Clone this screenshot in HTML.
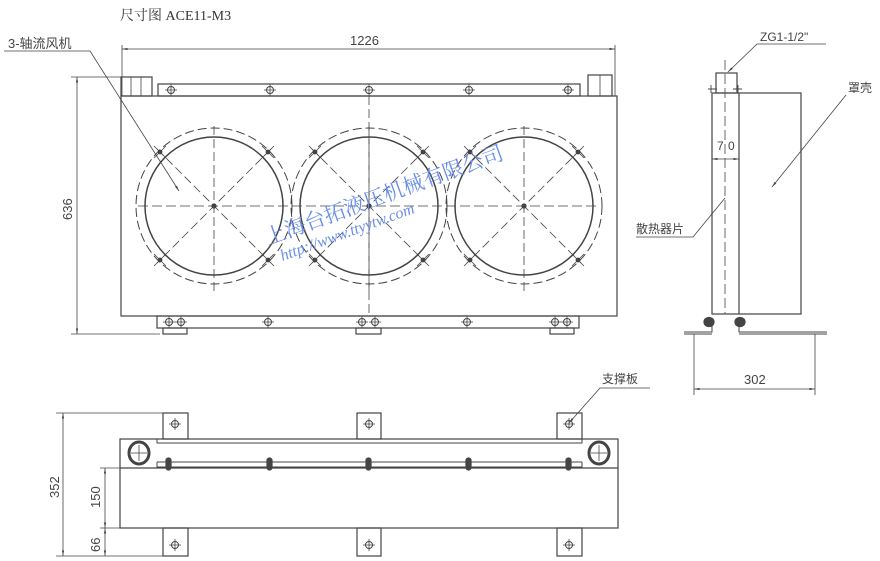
<!DOCTYPE html>
<html><head><meta charset="utf-8"><style>
html,body{margin:0;padding:0;background:#fff;}
svg{display:block;}
text{font-family:"Liberation Sans","Noto Sans CJK SC",sans-serif;fill:#444;}
</style></head><body>
<svg width="880" height="561" viewBox="0 0 880 561" xmlns="http://www.w3.org/2000/svg">
<defs>
<marker id="a" viewBox="0 0 10 10" refX="10" refY="5" markerWidth="7" markerHeight="7" orient="auto-start-reverse"><path d="M0,3 L10,5 L0,7 z" fill="#444"/></marker>
<g id="bolt"><circle r="3.5" fill="none" stroke="#444" stroke-width="1"/><path d="M-6,0H6M0,-6V6" stroke="#444" stroke-width="0.8"/></g>
</defs>
<g stroke="#444" stroke-width="1.2" fill="none">
<text x="120" y="20" font-size="14" stroke="none" style="font-family:'Liberation Serif','Noto Serif CJK SC',serif;fill:#333">尺寸图 ACE11-M3</text>
<!-- 1226 dim -->
<line x1="122" y1="45" x2="122" y2="96" stroke-width="0.8"/>
<line x1="615" y1="45" x2="615" y2="96" stroke-width="0.8"/>
<line x1="122" y1="49" x2="615" y2="49" stroke-width="0.8" marker-start="url(#a)" marker-end="url(#a)"/>
<text x="350" y="45" font-size="13" stroke="none">1226</text>
<!-- 636 dim -->
<line x1="71" y1="77" x2="152" y2="77" stroke-width="0.8"/>
<line x1="71" y1="334" x2="160" y2="334" stroke-width="0.8"/>
<line x1="77" y1="77" x2="77" y2="334" stroke-width="0.8" marker-start="url(#a)" marker-end="url(#a)"/>
<text transform="translate(72,220) rotate(-90)" font-size="13" stroke="none">636</text>
<!-- leader 3- -->
<text x="8" y="48" font-size="13" stroke="none">3-轴流风机</text>
<polyline points="4,51 90,51 179,191" stroke-width="0.8" marker-end="url(#a)"/>
<!-- front view -->
<rect x="121" y="96" width="496" height="220"/>
<rect x="121" y="77" width="31" height="19"/>
<line x1="131" y1="77" x2="131" y2="96" stroke-width="0.8"/><line x1="141" y1="77" x2="141" y2="96" stroke-width="0.8"/>
<rect x="588" y="75" width="24" height="21"/>
<line x1="600" y1="75" x2="600" y2="96" stroke-width="0.8"/>
<rect x="158" y="84" width="422" height="12"/>
<rect x="157" y="316" width="422" height="12"/>
<rect x="163" y="328" width="24" height="6"/><rect x="356" y="328" width="25" height="6"/><rect x="550" y="328" width="24" height="6"/>
<g stroke-width="1">
<use href="#bolt" x="171" y="90"/><use href="#bolt" x="270" y="90"/><use href="#bolt" x="369" y="90"/><use href="#bolt" x="469" y="90"/><use href="#bolt" x="568" y="90"/>
<use href="#bolt" x="169" y="322"/><use href="#bolt" x="181" y="322"/><use href="#bolt" x="268" y="322"/><use href="#bolt" x="362" y="322"/><use href="#bolt" x="375" y="322"/><use href="#bolt" x="467" y="322"/><use href="#bolt" x="555" y="322"/><use href="#bolt" x="567" y="322"/>
</g>
<line x1="138" y1="206" x2="600" y2="206" stroke-width="0.8" stroke-dasharray="10,4"/>
<g id="fan">
<circle cx="214" cy="206" r="69" stroke-width="1.5"/>
<circle cx="214" cy="206" r="78" stroke-width="1" stroke-dasharray="9,4"/>
<line x1="214" y1="126" x2="214" y2="292" stroke-width="0.8" stroke-dasharray="9,4"/>
<line x1="157" y1="149" x2="271" y2="263" stroke-width="0.8" stroke-dasharray="9,4"/>
<line x1="271" y1="149" x2="157" y2="263" stroke-width="0.8" stroke-dasharray="9,4"/>
<circle cx="214" cy="206" r="2" fill="#444"/>
<g fill="#444" stroke-width="0.8"><circle cx="160" cy="152" r="2"/><circle cx="268" cy="152" r="2"/><circle cx="160" cy="260" r="2"/><circle cx="268" cy="260" r="2"/>
<path d="M154,146l12,12M166,146l-12,12M262,146l12,12M274,146l-12,12M154,254l12,12M166,254l-12,12M262,254l12,12M274,254l-12,12"/></g>
</g>
<use href="#fan" x="155"/>
<use href="#fan" x="310"/>
<line x1="369" y1="96" x2="369" y2="316" stroke-width="0.8" stroke-dasharray="9,4"/>
<!-- side view -->
<rect x="712" y="93" width="89" height="221"/>
<line x1="739" y1="93" x2="739" y2="314"/>
<rect x="716" y="73" width="21" height="20"/>
<line x1="725" y1="60" x2="725" y2="314" stroke-width="0.8" stroke-dasharray="10,4"/>
<path d="M708,89h9M733,89h9M711,85v8M738,85v8" stroke-width="0.9"/>
<line x1="712" y1="159" x2="739" y2="159" stroke-width="0.8" marker-start="url(#a)" marker-end="url(#a)"/>
<text x="717" y="150" font-size="12" stroke="none">7</text><text x="728" y="150" font-size="12" stroke="none">0</text>
<path d="M684,332h28v-8M739,324v8h88M684,334h28M739,334h88" stroke-width="1"/>
<path d="M704,322c0,-6 10,-6 10,0c0,6 -10,6 -10,0zM735,322c0,-6 10,-6 10,0c0,6 -10,6 -10,0z" fill="#444"/>
<line x1="694" y1="334" x2="694" y2="395" stroke-width="0.8"/>
<line x1="815" y1="334" x2="815" y2="395" stroke-width="0.8"/>
<line x1="694" y1="389" x2="815" y2="389" stroke-width="0.8" marker-start="url(#a)" marker-end="url(#a)"/>
<text x="744" y="384" font-size="13" stroke="none">302</text>
<text x="760" y="41" font-size="12" stroke="none">ZG1-1/2"</text>
<polyline points="826,44 757,44 728,72" stroke-width="0.8" marker-end="url(#a)"/>
<text x="848" y="92" font-size="12" stroke="none">罩壳</text>
<polyline points="846,95 772,187" stroke-width="0.8" marker-end="url(#a)"/>
<text x="636" y="233" font-size="12" stroke="none">散热器片</text>
<polyline points="636,237 693,237 725,198" stroke-width="0.8"/>
<!-- bottom view -->
<rect x="120" y="439" width="498" height="89"/>
<line x1="120" y1="468" x2="618" y2="468"/>
<path d="M157,439v4h425v-4M157,462v5h425v-5M157,462h425" stroke-width="1"/>
<rect x="163" y="413" width="25" height="26"/><rect x="357" y="413" width="24" height="26"/><rect x="557" y="413" width="25" height="26"/>
<rect x="163" y="528" width="25" height="28"/><rect x="357" y="528" width="24" height="28"/><rect x="557" y="528" width="25" height="28"/>
<g stroke-width="1"><use href="#bolt" x="175" y="424"/><use href="#bolt" x="369" y="424"/><use href="#bolt" x="569" y="424"/>
<use href="#bolt" x="175" y="545"/><use href="#bolt" x="369" y="545"/><use href="#bolt" x="569" y="545"/></g>
<ellipse cx="139" cy="453" rx="10" ry="11" stroke-width="3"/><path d="M131,453h16M139,445v16" stroke-width="0.8"/>
<ellipse cx="599" cy="453" rx="10" ry="11" stroke-width="3"/><path d="M591,453h16M599,445v16" stroke-width="0.8"/>
<g fill="#444"><rect x="166" y="458" width="5" height="12" rx="2.5"/><rect x="267" y="458" width="5" height="12" rx="2.5"/><rect x="366" y="458" width="5" height="12" rx="2.5"/><rect x="466" y="458" width="5" height="12" rx="2.5"/><rect x="566" y="458" width="5" height="12" rx="2.5"/></g>
<line x1="56" y1="413" x2="163" y2="413" stroke-width="0.8"/>
<line x1="56" y1="556" x2="163" y2="556" stroke-width="0.8"/>
<line x1="100" y1="468" x2="120" y2="468" stroke-width="0.8"/>
<line x1="100" y1="528" x2="120" y2="528" stroke-width="0.8"/>
<line x1="63" y1="413" x2="63" y2="556" stroke-width="0.8" marker-start="url(#a)" marker-end="url(#a)"/>
<line x1="105" y1="468" x2="105" y2="528" stroke-width="0.8" marker-start="url(#a)" marker-end="url(#a)"/>
<line x1="105" y1="528" x2="105" y2="556" stroke-width="0.8" marker-start="url(#a)" marker-end="url(#a)"/>
<text transform="translate(59,498) rotate(-90)" font-size="13" stroke="none">352</text>
<text transform="translate(100,508) rotate(-90)" font-size="13" stroke="none">150</text>
<text transform="translate(100,552) rotate(-90)" font-size="13" stroke="none">66</text>
<text x="602" y="383" font-size="12" stroke="none">支撑板</text>
<polyline points="650,388 600,388 569,423" stroke-width="0.8" marker-end="url(#a)"/>
</g>
<!-- watermark -->
<g transform="translate(268,245) rotate(-20)">
<text x="0" y="0" font-size="21" style="font-family:'Liberation Serif','Noto Serif CJK SC',serif;fill:#6a8ee8">上海台拓液压机械有限公司</text>
<text x="8" y="20" font-size="16" font-style="italic" style="font-family:'Liberation Serif',serif;fill:#6a8ee8">http://www.ttyytw.com</text>
</g>
</svg>
</body></html>
